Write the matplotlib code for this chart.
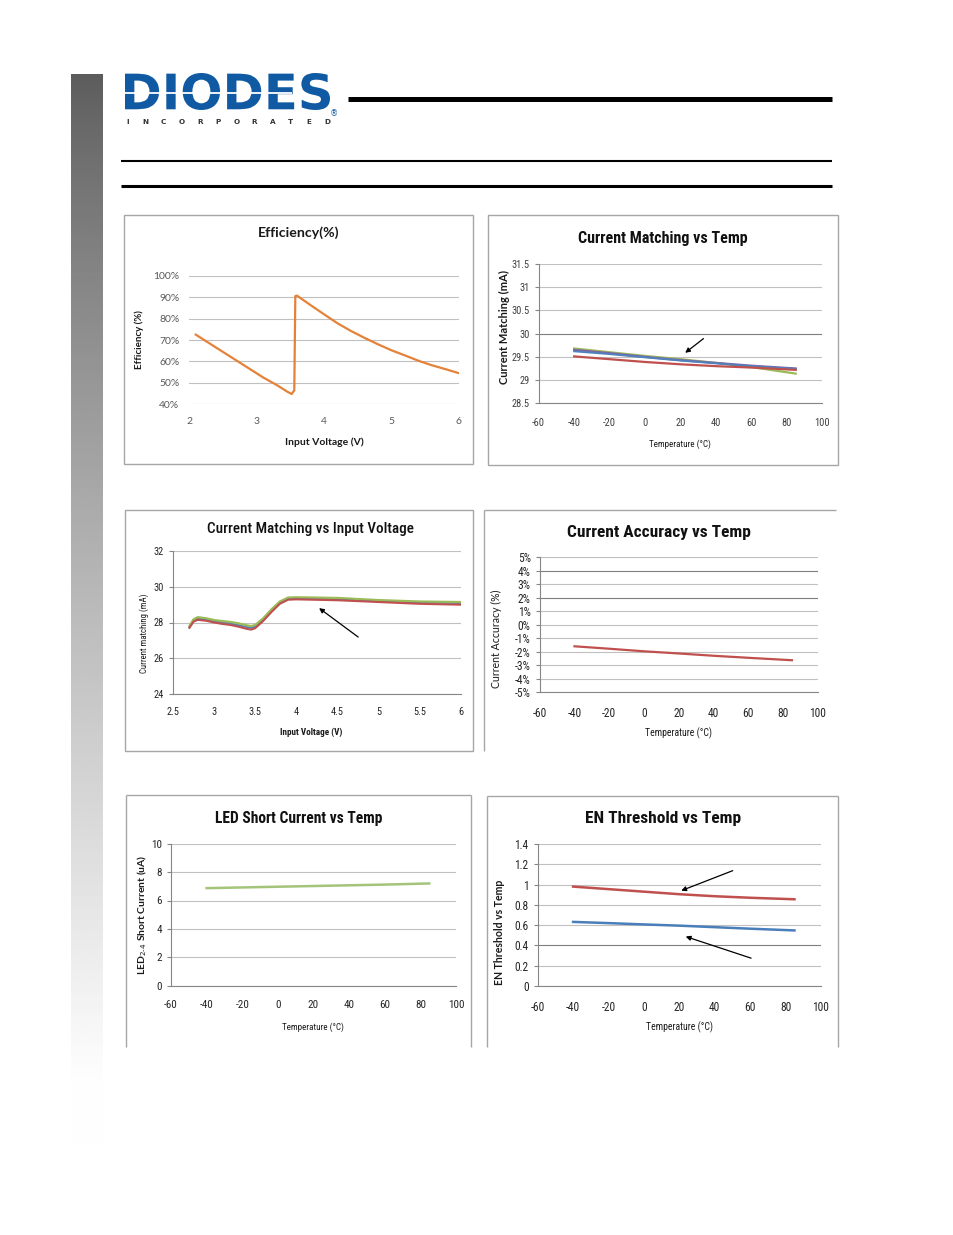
import numpy as np
import matplotlib
matplotlib.use("Agg")
import matplotlib.pyplot as plt
from matplotlib import font_manager as fm
from matplotlib.textpath import TextPath
from matplotlib.patches import PathPatch, Rectangle
from matplotlib.font_manager import FontProperties
from matplotlib.transforms import Affine2D

W, H = 954, 1235

avail = {f.name for f in fm.fontManager.ttflist}
def pick(*names):
    for n in names:
        if n in avail:
            return n
    return 'DejaVu Sans'

NARROW = pick('Liberation Sans Narrow', 'Roboto Condensed', 'Open Sans Condensed', 'Lato')
BODY = pick('Lato', 'Open Sans', 'DejaVu Sans')

# ---------------- data ----------------
eff_v = [2.1, 2.3, 2.5, 2.7, 2.9, 3.1, 3.3, 3.45, 3.52, 3.56, 3.575, 3.6, 3.8, 4.0, 4.2, 4.4,
         4.6, 4.8, 5.0, 5.2, 5.4, 5.6, 5.8, 6.0]
eff_pct = [72.5, 68.5, 64.5, 60.5, 56.5, 52.5, 49.0, 46.0, 44.8, 46.5, 90.5, 90.7, 86.3, 82.0,
           77.8, 74.2, 71.0, 68.0, 65.2, 62.8, 60.3, 58.2, 56.4, 54.5]

temp_c = [-40, -20, 0, 20, 40, 60, 85]
cm_green = [29.68, 29.60, 29.52, 29.45, 29.37, 29.28, 29.14]
cm_purple = [29.65, 29.58, 29.50, 29.43, 29.37, 29.31, 29.25]
cm_blue = [29.62, 29.56, 29.49, 29.42, 29.36, 29.30, 29.24]
cm_red = [29.51, 29.45, 29.39, 29.34, 29.30, 29.27, 29.22]
cm_arrow = [(34.2, 29.93), (21.4, 29.55)]

cmv_v = [2.7, 2.75, 2.8, 2.9, 3.0, 3.1, 3.2, 3.3, 3.4, 3.45, 3.5, 3.6, 3.7, 3.8, 3.9, 4.0,
         4.5, 5.0, 5.5, 6.0]
cmv_red = [27.70, 28.05, 28.15, 28.10, 28.00, 27.92, 27.86, 27.76, 27.64, 27.60, 27.68, 28.10,
           28.60, 29.05, 29.28, 29.30, 29.25, 29.15, 29.05, 29.00]
cmv_blue = [27.75, 28.12, 28.22, 28.17, 28.07, 28.00, 27.94, 27.85, 27.74, 27.70, 27.77, 28.18,
            28.68, 29.12, 29.35, 29.37, 29.32, 29.21, 29.12, 29.10]
cmv_green = [27.80, 28.18, 28.30, 28.24, 28.14, 28.08, 28.03, 27.95, 27.84, 27.80, 27.86, 28.25,
             28.75, 29.18, 29.40, 29.42, 29.38, 29.26, 29.18, 29.15]
cmv_arrow = [(4.78, 27.09), (4.25, 28.9)]

ca_pct = [-1.60, -1.78, -1.97, -2.13, -2.30, -2.45, -2.63]

led_ua = [6.87, 6.92, 6.97, 7.02, 7.07, 7.12, 7.20]

en_high = [0.980, 0.955, 0.930, 0.905, 0.885, 0.870, 0.855]
en_low = [0.632, 0.620, 0.607, 0.595, 0.580, 0.565, 0.548]
en_arrows = [[(51.6, 1.147), (19.6, 0.93)], [(62.0, 0.266), (22.1, 0.496)]]

temp_ticks = [-60, -40, -20, 0, 20, 40, 60, 80, 100]

# ---------------- figure ----------------
fig = plt.figure(figsize=(W / 100, H / 100), dpi=100)
bg = fig.add_axes([0, 0, 1, 1])
bg.set_zorder(-5)

# gradient side bar
t = np.linspace(0, 1, 400)
vals = np.clip(0.36 + 0.64 * (np.clip(t / 0.95, 0, 1) ** 0.85), 0, 0.995)
grad = np.tile(vals[:, None], (1, 10))
bg.imshow(grad, extent=(71, 103, 1145, 74), cmap='gray', vmin=0, vmax=1, aspect='auto',
          interpolation='bilinear')
bg.set_xlim(0, W)
bg.set_ylim(H, 0)
bg.axis('off')

# logo
tp = TextPath((0, 0), "DIODES", size=1, prop=FontProperties(family='DejaVu Sans', weight='bold'))
ext = tp.get_extents()
x0, y0, x1, y1 = 125, 73, 330, 110
tr = Affine2D().translate(-ext.x0, -ext.y0).scale((x1 - x0) / ext.width, -(y1 - y0) / ext.height).translate(x0, y1)
bg.add_patch(PathPatch(tr.transform_path(tp), facecolor='#0F5AA2', edgecolor='none'))
bg.plot([125, 292], [93, 93], color='white', lw=1.3, solid_capstyle='butt')
bg.text(334.5, 114, '®', fontsize=6, color='#0F5AA2', ha='center', va='center', family='DejaVu Sans')
for ch, xx in zip("INCORPORATED", np.linspace(127.5, 327, 12)):
    bg.text(xx, 121.5, ch, fontsize=5.2, fontweight='bold', color='#333333', ha='center',
            va='center', family='DejaVu Sans')

# header rules
bg.plot([348, 832], [98.5, 98.5], color='black', lw=3.6, solid_capstyle='butt')
bg.plot([121, 832], [161.3, 161.3], color='black', lw=1.5, solid_capstyle='butt')
bg.plot([121, 832], [185.6, 185.6], color='black', lw=2.2, solid_capstyle='butt')

FRAME = '#A6A6A6'
def frame_full(x0, y0, x1, y1):
    bg.add_patch(Rectangle((x0, y0), x1 - x0, y1 - y0, fill=False, edgecolor=FRAME, lw=1.0))

def frame_lines(segs):
    for (xa, ya), (xb, yb) in segs:
        bg.plot([xa, xb], [ya, yb], color=FRAME, lw=1.0, solid_capstyle='butt')

frame_full(124.5, 215, 473, 464)
frame_full(488.5, 214.5, 838, 465)
frame_full(125.5, 509.5, 473, 751)
frame_lines([((484, 509.5), (836, 509.5)), ((484.5, 509.5), (484.5, 751))])
frame_lines([((126, 795), (471, 795)), ((126.5, 795), (126.5, 1047)), ((471, 795), (471, 1047))])
frame_lines([((487, 795.5), (838, 795.5)), ((487.5, 795.5), (487.5, 1047)), ((838, 795.5), (838, 1047))])


def ax_px(x0, y0, x1, y1):
    return fig.add_axes([x0 / W, 1 - y1 / H, (x1 - x0) / W, (y1 - y0) / H])


def style(ax, xlim, xticks, xlabels, ylim, yticks, ylabels, fs=7, family=NARROW,
          color='#262626', left=True, ticklen=3, dark=(), xpad=10.5):
    ax.set_xlim(*xlim)
    ax.set_ylim(*ylim)
    ax.set_xticks(xticks)
    ax.set_xticklabels(xlabels)
    ax.set_yticks(yticks)
    ax.set_yticklabels(ylabels)
    ax.patch.set_alpha(0)
    for s in ('top', 'right'):
        ax.spines[s].set_visible(False)
    ax.spines['left'].set_visible(left)
    ax.spines['left'].set_color('#868686')
    ax.spines['bottom'].set_color('#868686')
    ax.spines['left'].set_linewidth(0.8)
    ax.spines['bottom'].set_linewidth(0.8)
    for yv in yticks:
        ax.axhline(yv, color='#7F7F7F' if yv in dark else '#C0C0C0', lw=0.8, zorder=0)
    ax.tick_params(axis='both', length=ticklen if left else 0, width=0.8, color='#868686',
                   labelsize=fs, labelcolor=color, pad=3.5)
    ax.tick_params(axis='x', length=0, pad=xpad)
    for lab in ax.get_xticklabels() + ax.get_yticklabels():
        lab.set_family(family)


# ---- chart 1: efficiency ----
ax1 = ax_px(189, 275.7, 459, 404.3)
style(ax1, (2, 6), [2, 3, 4, 5, 6], ['2', '3', '4', '5', '6'], (40, 100),
      list(range(40, 101, 10)), ['%d%%' % v for v in range(40, 101, 10)], fs=7.5,
      family=BODY, color='#595959', left=False, xpad=9)
ax1.spines['bottom'].set_visible(False)
ax1.tick_params(axis='y', pad=7)
ax1.plot(eff_v, eff_pct, color='#E5823A', lw=1.6, solid_joinstyle='round')
bg.text(299, 233, 'Efficiency(%)', fontsize=10.2, fontweight='bold', family=BODY,
        ha='center', va='center', color='#1a1a1a')
bg.text(139, 340, 'Efficiency (%)', fontsize=7, fontweight='bold', family=BODY,
        rotation=90, ha='center', va='center', color='#1a1a1a')
bg.text(324, 442, 'Input Voltage (V)', fontsize=7.5, fontweight='bold', family=BODY,
        ha='center', va='center', color='#1a1a1a')

# ---- chart 2: current matching vs temp ----
ax2 = ax_px(538.7, 264, 822.3, 403.3)
yt2 = [28.5, 29, 29.5, 30, 30.5, 31, 31.5]
style(ax2, (-60, 100), temp_ticks, [str(v) for v in temp_ticks], (28.5, 31.5), yt2,
      ['28.5', '29', '29.5', '30', '30.5', '31', '31.5'], fs=7.5, dark=(30,), color='#404040')
ax2.plot(temp_c, cm_green, color='#9BBB59', lw=1.6)
ax2.plot(temp_c, cm_purple, color='#8064A2', lw=1.6)
ax2.plot(temp_c, cm_blue, color='#4F81BD', lw=1.4)
ax2.plot(temp_c, cm_red, color='#C0504D', lw=1.6)
ax2.annotate('', xy=cm_arrow[1], xytext=cm_arrow[0],
             arrowprops=dict(arrowstyle='-|>', color='black', lw=0.9, mutation_scale=7))
bg.text(663, 238, 'Current Matching vs Temp', fontsize=11.5, fontweight='bold', family=NARROW,
        ha='center', va='center', color='#111111')
bg.text(504, 327, 'Current Matching (mA)', fontsize=8, fontweight='bold', family=BODY,
        rotation=90, ha='center', va='center', color='#1a1a1a')
bg.text(680, 444, 'Temperature (°C)', fontsize=6.5, family=NARROW,
        ha='center', va='center', color='#1a1a1a')

# ---- chart 3: current matching vs input voltage ----
ax3 = ax_px(173, 551.3, 460.7, 693.7)
xt3 = [2.5, 3, 3.5, 4, 4.5, 5, 5.5, 6]
style(ax3, (2.5, 6), xt3, ['2.5', '3', '3.5', '4', '4.5', '5', '5.5', '6'], (24, 32),
      [24, 26, 28, 30, 32], ['24', '26', '28', '30', '32'], fs=7.5, xpad=9.5)
ax3.plot(cmv_v, cmv_blue, color='#4F81BD', lw=1.5)
ax3.plot(cmv_v, cmv_green, color='#9BBB59', lw=1.6)
ax3.plot(cmv_v, cmv_red, color='#C0504D', lw=1.5)
ax3.annotate('', xy=cmv_arrow[1], xytext=cmv_arrow[0],
             arrowprops=dict(arrowstyle='-|>', color='black', lw=0.9, mutation_scale=7))
bg.text(310, 529, 'Current Matching vs Input Voltage', fontsize=10.9, fontweight='medium',
        family=NARROW, ha='center', va='center', color='#111111')
bg.text(144, 633, 'Current matching (mA)', fontsize=6.3, family=NARROW,
        rotation=90, ha='center', va='center', color='#1a1a1a')
bg.text(311, 732, 'Input Voltage (V)', fontsize=6.6, fontweight='bold', family=NARROW,
        ha='center', va='center', color='#1a1a1a')

# ---- chart 4: current accuracy vs temp ----
ax4 = ax_px(539.7, 557, 818, 692.3)
yt4 = list(range(-5, 6))
style(ax4, (-60, 100), temp_ticks, [str(v) for v in temp_ticks], (-5, 5), yt4,
      ['%d%%' % v for v in yt4], fs=8.3, dark=(4, 2))
ax4.plot(temp_c, ca_pct, color='#C0504D', lw=1.6)
bg.text(659, 532, 'Current Accuracy vs Temp', fontsize=12.5, fontweight='bold', family=NARROW,
        ha='center', va='center', color='#111111')
bg.text(496, 639, 'Current Accuracy (%)', fontsize=7.6, family=BODY,
        rotation=90, ha='center', va='center', color='#1a1a1a')
bg.text(679, 733, 'Temperature (°C)', fontsize=7, family=NARROW,
        ha='center', va='center', color='#1a1a1a')

# ---- chart 5: LED short current vs temp ----
ax5 = ax_px(171, 843.7, 456, 985.7)
yt5 = [0, 2, 4, 6, 8, 10]
style(ax5, (-60, 100), temp_ticks, [str(v) for v in temp_ticks], (0, 10), yt5,
      [str(v) for v in yt5], fs=8)
ax5.plot(temp_c, led_ua, color='#A4C47A', lw=1.8)
bg.text(299, 818, 'LED Short Current vs Temp', fontsize=11.2, fontweight='bold', family=NARROW,
        ha='center', va='center', color='#111111')
bg.text(142, 915, r'LED$_{2\text{-}4}$ Short Current (uA)', fontsize=7.5, fontweight='bold',
        family=BODY, rotation=90, ha='center', va='center', color='#1a1a1a')
bg.text(313, 1027, 'Temperature (°C)', fontsize=6.5, family=NARROW,
        ha='center', va='center', color='#1a1a1a')

# ---- chart 6: EN threshold vs temp ----
ax6 = ax_px(537.7, 844, 821, 986)
yt6 = [0, 0.2, 0.4, 0.6, 0.8, 1.0, 1.2, 1.4]
style(ax6, (-60, 100), temp_ticks, [str(v) for v in temp_ticks], (0, 1.4), yt6,
      ['0', '0.2', '0.4', '0.6', '0.8', '1', '1.2', '1.4'], fs=8.3, dark=(0.4,))
ax6.plot(temp_c, en_high, color='#C0504D', lw=1.8)
ax6.plot(temp_c, en_low, color='#4A7EBB', lw=1.8)
for tail, head in en_arrows:
    ax6.annotate('', xy=head, xytext=tail,
                 arrowprops=dict(arrowstyle='-|>', color='black', lw=0.9, mutation_scale=7))
bg.text(663, 818, 'EN Threshold vs Temp', fontsize=12.5, fontweight='bold', family=NARROW,
        ha='center', va='center', color='#111111')
bg.text(500, 932, 'EN Threshold vs Temp', fontsize=7.6, fontweight='bold', family=BODY,
        rotation=90, ha='center', va='center', color='#1a1a1a')
bg.text(680, 1027, 'Temperature (°C)', fontsize=7, family=NARROW,
        ha='center', va='center', color='#1a1a1a')

fig.savefig('out.png', dpi=100)
